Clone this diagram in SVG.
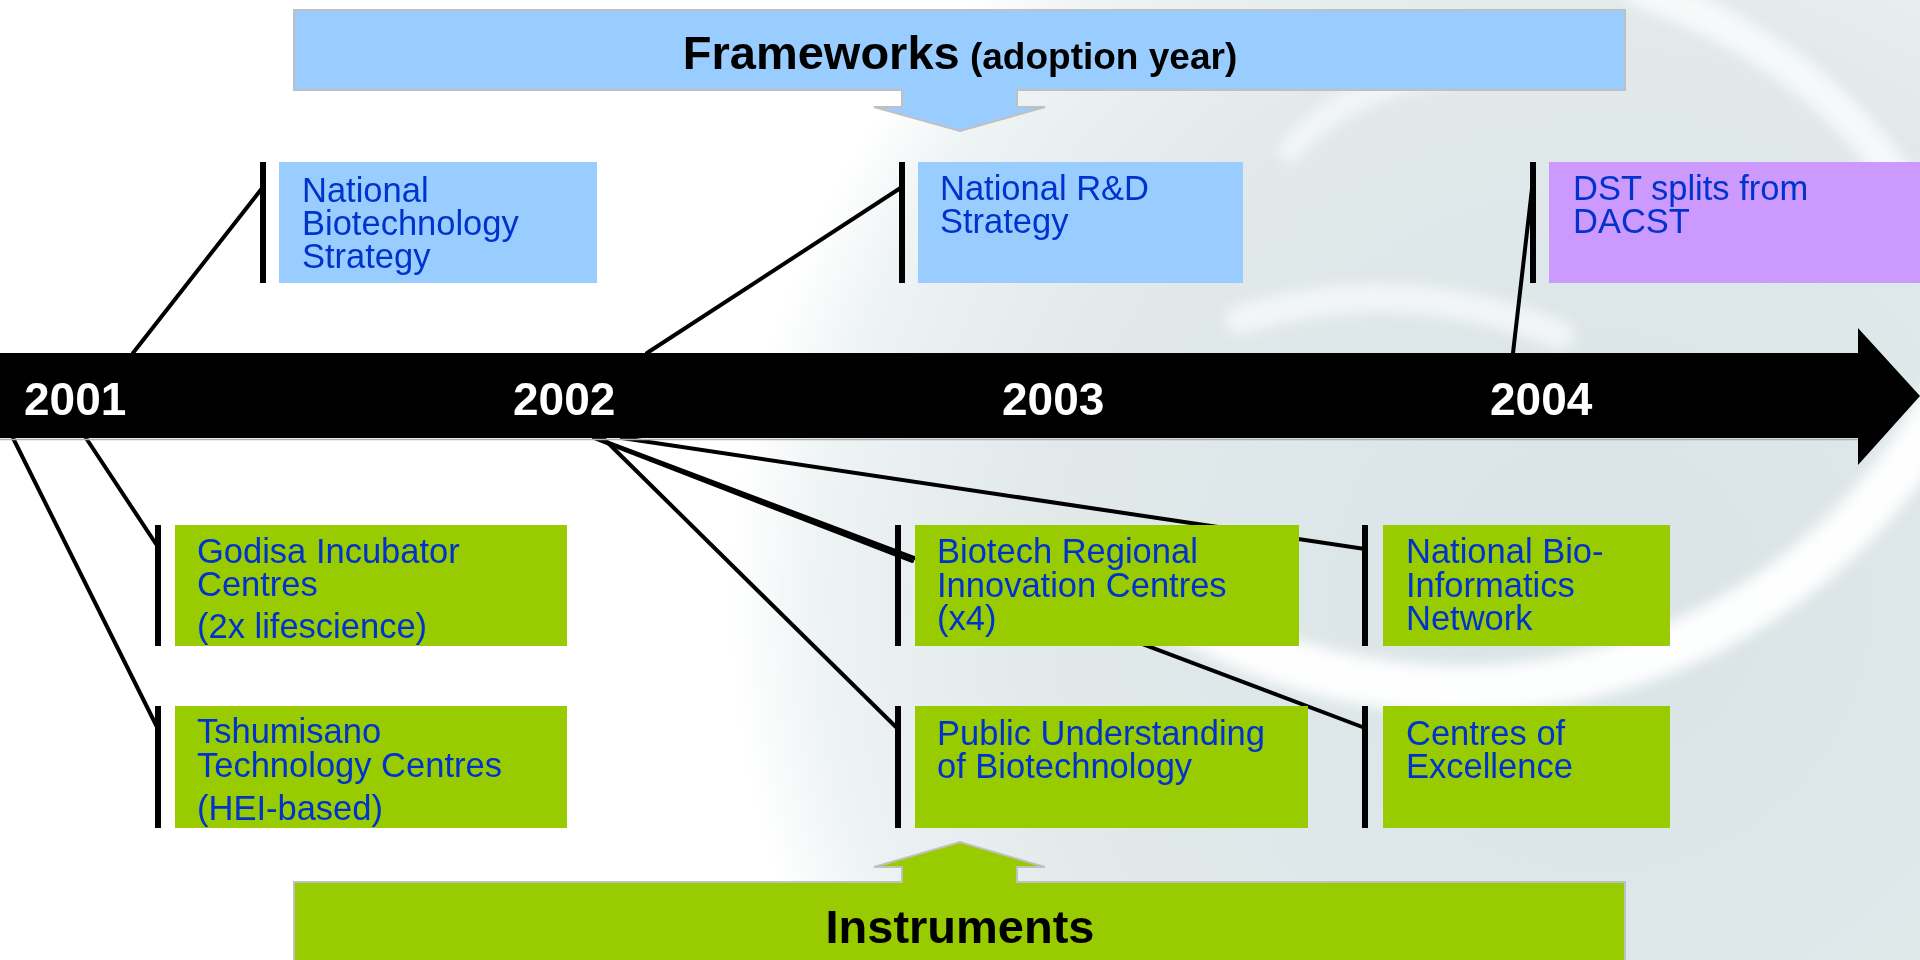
<svg xmlns="http://www.w3.org/2000/svg" width="1920" height="960" viewBox="0 0 1920 960">
  <defs>
    <radialGradient id="bgGrad" cx="1600" cy="600" r="870" gradientUnits="userSpaceOnUse">
      <stop offset="0" stop-color="#d9e3e5"/>
      <stop offset="0.65" stop-color="#e1e9eb"/>
      <stop offset="0.9" stop-color="#eef3f4"/>
      <stop offset="1" stop-color="#ffffff"/>
    </radialGradient>
    <filter id="soft" x="-20%" y="-20%" width="140%" height="140%">
      <feGaussianBlur stdDeviation="7"/>
    </filter>
    <style>
      .lbl { font-family: "Liberation Sans", Arial, sans-serif; font-size: 34.5px; fill: #0033CC; }
      .year { font-family: "Liberation Sans", Arial, sans-serif; font-size: 46px; font-weight: bold; fill: #ffffff; }
      .title { font-family: "Liberation Sans", Arial, sans-serif; font-weight: bold; fill: #000000; }
      .blue { fill: #99CCFF; }
      .green { fill: #99CC00; }
      .purple { fill: #CC99FF; }
      .bracket { stroke: #000000; stroke-width: 6; fill: none; }
      .conn { stroke: #000000; stroke-width: 4; fill: none; stroke-linecap: round; }
      .callout { stroke: #C0C0C0; stroke-width: 2; }
      .swirl { fill: none; stroke: #ffffff; stroke-linecap: round; }
    </style>
  </defs>

  <rect x="0" y="0" width="1920" height="960" fill="#ffffff"/>

  <g id="background">
    <circle cx="1600" cy="600" r="870" fill="url(#bgGrad)"/>
    <g filter="url(#soft)">
      <path class="swirl" stroke-width="48" opacity="0.95" d="M1145 590 A550 550 0 0 0 1977 328"/>
      <path class="swirl" stroke-width="34" opacity="0.7" d="M1640 -10 Q1860 70 1935 250"/>
      <path class="swirl" stroke-width="30" opacity="0.6" d="M1240 320 Q1400 270 1560 335"/>
      <path class="swirl" stroke-width="26" opacity="0.55" d="M1290 150 Q1350 80 1470 70"/>
    </g>
  </g>

  <g id="connectors">
    <line class="conn" x1="133" y1="353" x2="263" y2="187"/>
    <line class="conn" x1="647" y1="353" x2="902" y2="187"/>
    <line class="conn" x1="1513" y1="353" x2="1533" y2="180"/>
    <line class="conn" x1="86" y1="438" x2="158" y2="547"/>
    <line class="conn" x1="13" y1="438" x2="158" y2="729"/>
    <line class="conn" x1="603" y1="438" x2="898" y2="729"/>
    <line class="conn" x1="594" y1="438" x2="912" y2="561"/>
    <line class="conn" x1="596" y1="438" x2="1365" y2="728"/>
    <line class="conn" x1="622" y1="438" x2="1365" y2="549"/>
  </g>

  <g id="timeline">
    <polygon points="0,353 1858,353 1858,328 1920,396 1858,465 1858,438 0,438" fill="#000000"/>
    <line x1="0" y1="439.5" x2="1858" y2="439.5" stroke="#b0b0b0" stroke-width="1.5"/>
    <text class="year" x="24" y="415">2001</text>
    <text class="year" x="513" y="415">2002</text>
    <text class="year" x="1002" y="415">2003</text>
    <text class="year" x="1490" y="415">2004</text>
  </g>

  <g id="frameworks">
    <polygon class="blue callout" points="294,10 1625,10 1625,90 1017,90 1017,107 1045,107 960,131 874,107 902,107 902,90 294,90"/>
    <text class="title" x="960" y="69" text-anchor="middle"><tspan font-size="47">Frameworks</tspan><tspan font-size="37"> (adoption year)</tspan></text>
  </g>

  <g id="instruments">
    <polygon class="green callout" points="294,882 902,882 902,867 874,867 960,842 1045,867 1017,867 1017,882 1625,882 1625,962 294,962"/>
    <text class="title" x="960" y="943" text-anchor="middle" font-size="47">Instruments</text>
  </g>

  <g id="national-biotech-strategy">
    <line class="bracket" x1="263" y1="162" x2="263" y2="283"/>
    <rect class="blue" x="279" y="162" width="318" height="121"/>
    <text class="lbl" x="302" y="202">National</text>
    <text class="lbl" x="302" y="235">Biotechnology</text>
    <text class="lbl" x="302" y="268">Strategy</text>
  </g>

  <g id="national-rd-strategy">
    <line class="bracket" x1="902" y1="162" x2="902" y2="283"/>
    <rect class="blue" x="918" y="162" width="325" height="121"/>
    <text class="lbl" x="940" y="200">National R&amp;D</text>
    <text class="lbl" x="940" y="233">Strategy</text>
  </g>

  <g id="dst-splits">
    <line class="bracket" x1="1533" y1="162" x2="1533" y2="283"/>
    <rect class="purple" x="1549" y="162" width="371" height="121"/>
    <text class="lbl" x="1573" y="200">DST splits from</text>
    <text class="lbl" x="1573" y="233">DACST</text>
  </g>

  <g id="godisa">
    <line class="bracket" x1="158" y1="525" x2="158" y2="646"/>
    <rect class="green" x="175" y="525" width="392" height="121"/>
    <text class="lbl" x="197" y="563">Godisa Incubator</text>
    <text class="lbl" x="197" y="596">Centres</text>
    <text class="lbl" x="197" y="638">(2x lifescience)</text>
  </g>

  <g id="tshumisano">
    <line class="bracket" x1="158" y1="706" x2="158" y2="828"/>
    <rect class="green" x="175" y="706" width="392" height="122"/>
    <text class="lbl" x="197" y="743">Tshumisano</text>
    <text class="lbl" x="197" y="777">Technology Centres</text>
    <text class="lbl" x="197" y="820">(HEI-based)</text>
  </g>

  <g id="biotech-ric">
    <line class="bracket" x1="898" y1="525" x2="898" y2="646"/>
    <rect class="green" x="915" y="525" width="384" height="121"/>
    <text class="lbl" x="937" y="563">Biotech Regional</text>
    <text class="lbl" x="937" y="597">Innovation Centres</text>
    <text class="lbl" x="937" y="630">(x4)</text>
  </g>

  <g id="public-understanding">
    <line class="bracket" x1="898" y1="706" x2="898" y2="828"/>
    <rect class="green" x="915" y="706" width="393" height="122"/>
    <text class="lbl" x="937" y="745">Public Understanding</text>
    <text class="lbl" x="937" y="778">of Biotechnology</text>
  </g>

  <g id="bioinformatics">
    <line class="bracket" x1="1365" y1="525" x2="1365" y2="646"/>
    <rect class="green" x="1383" y="525" width="287" height="121"/>
    <text class="lbl" x="1406" y="563">National Bio-</text>
    <text class="lbl" x="1406" y="597">Informatics</text>
    <text class="lbl" x="1406" y="630">Network</text>
  </g>

  <g id="centres-of-excellence">
    <line class="bracket" x1="1365" y1="706" x2="1365" y2="828"/>
    <rect class="green" x="1383" y="706" width="287" height="122"/>
    <text class="lbl" x="1406" y="745">Centres of</text>
    <text class="lbl" x="1406" y="778">Excellence</text>
  </g>
</svg>
